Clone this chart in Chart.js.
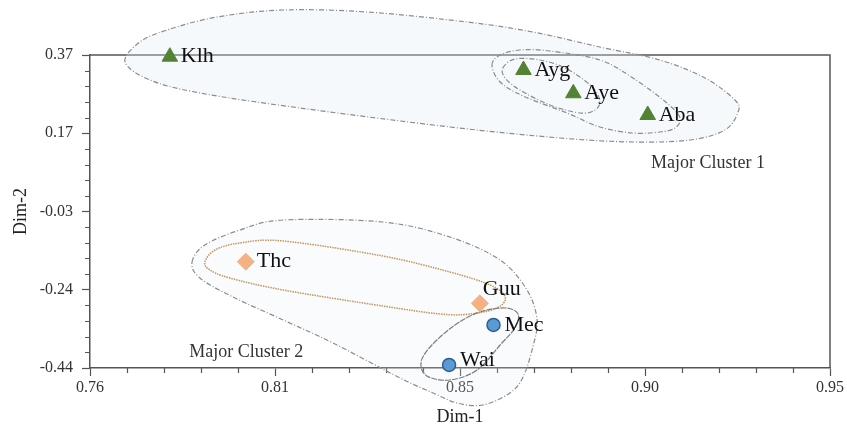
<!DOCTYPE html>
<html>
<head>
<meta charset="utf-8">
<script src="https://cdn.jsdelivr.net/npm/chart.js@4"></script>
<style>
html,body{margin:0;padding:0;background:#fff;}
</style>
</head>
<body>
<canvas id="mychart" width="847" height="428"></canvas>
<script>
// values
var names = ['Klh','Ayg','Aye','Aba','Thc','Guu','Mec','Wai']
var dim1 = [0.7805,0.8713,0.8841,0.9032,0.8000,0.8601,0.8636,0.8522]
var dim2 = [0.3656,0.3312,0.2709,0.2147,-0.1649,-0.2726,-0.3287,-0.4322]
var group = [0,0,0,0,1,1,2,2]

var xTickLabels = ['0.76','0.81','0.85','0.90','0.95']
var yTickLabels = ['-0.44','-0.24','-0.03','0.17','0.37']

var clusterNames = ['Major Cluster 1','Major Cluster 2']
var clusterX = [0.9187,0.8001]
var clusterY = [0.0905,-0.3986]

// cluster outlines, in Dim-1 / Dim-2 units
var hullMajor1 = [[0.7690,0.3519],[0.7728,0.4036],[0.7798,0.4347],[0.7926,0.4683],[0.8096,0.4865],[0.8311,0.4813],[0.8568,0.4554],[0.8737,0.4295],[0.8909,0.3907],[0.9063,0.3571],[0.9179,0.3105],[0.9256,0.2535],[0.9264,0.2225],[0.9230,0.1759],[0.9141,0.1500],[0.8994,0.1449],[0.8807,0.1552],[0.8524,0.1837],[0.8139,0.2328],[0.7882,0.2717],[0.7754,0.3053]]
var hullAbaGroup = [[0.8632,0.3441],[0.8653,0.3700],[0.8704,0.3829],[0.8781,0.3804],[0.8909,0.3571],[0.8994,0.3105],[0.9081,0.2458],[0.9115,0.2070],[0.9102,0.1811],[0.9063,0.1707],[0.8994,0.1681],[0.8909,0.1837],[0.8825,0.2199],[0.8712,0.2639],[0.8653,0.3001]]
var hullAyGroup = [[0.8660,0.3364],[0.8691,0.3596],[0.8755,0.3571],[0.8820,0.3364],[0.8884,0.2924],[0.8909,0.2535],[0.8897,0.2277],[0.8858,0.2199],[0.8781,0.2406],[0.8704,0.2794],[0.8666,0.3105]]
var hullMajor2 = [[0.7862,-0.1657],[0.7895,-0.1217],[0.7985,-0.0829],[0.8096,-0.0570],[0.8352,-0.0622],[0.8524,-0.1010],[0.8653,-0.1605],[0.8722,-0.2382],[0.8748,-0.3158],[0.8737,-0.3857],[0.8712,-0.4633],[0.8678,-0.5047],[0.8609,-0.5358],[0.8542,-0.5306],[0.8481,-0.5047],[0.8396,-0.4659],[0.8224,-0.3753],[0.8096,-0.3158],[0.7967,-0.2563],[0.7882,-0.2071]]
var hullThcGuu = [[0.7895,-0.1657],[0.7921,-0.1346],[0.7985,-0.1165],[0.8096,-0.1113],[0.8352,-0.1502],[0.8524,-0.1916],[0.8627,-0.2252],[0.8666,-0.2563],[0.8645,-0.2847],[0.8576,-0.3003],[0.8499,-0.3003],[0.8352,-0.2796],[0.8096,-0.2382],[0.7959,-0.2071],[0.7908,-0.1864]]
var hullMecWai = [[0.8601,-0.2951],[0.8666,-0.2847],[0.8699,-0.3003],[0.8691,-0.3365],[0.8653,-0.3805],[0.8594,-0.4452],[0.8524,-0.4711],[0.8465,-0.4607],[0.8450,-0.4245],[0.8478,-0.3805],[0.8537,-0.3288]]

var serif = '"Liberation Serif", "Times New Roman", serif'
var dashDot = [5,2,1,2]
var outlines = [
  {pts: hullMajor1, color: '#8c8c8c', width: 1.2, dash: dashDot, fill: 'rgba(225,234,246,0.3)'},
  {pts: hullAbaGroup, color: '#8c8c8c', width: 1.2, dash: dashDot},
  {pts: hullAyGroup, color: '#8c8c8c', width: 1.2, dash: dashDot},
  {pts: hullMajor2, color: '#8c8c8c', width: 1.2, dash: dashDot, fill: 'rgba(225,234,246,0.2)'},
  {pts: hullThcGuu, color: '#c4965c', width: 1.5, dash: [1.5,1]},
  {pts: hullMecWai, color: '#7d7d7d', width: 1.2, dash: [6,1]}
]
// label nudges (pixels)
var labelShift = {Guu: [-8,-14], Wai: [0,-5]}

var styles = [
  {pointStyle: 'triangle', radius: 9, bg: '#548235', border: '#548235', bw: 1},
  {pointStyle: 'rectRot', radius: 8.5, bg: '#f4b183', border: '#f4b183', bw: 1},
  {pointStyle: 'circle', radius: 6.5, bg: '#5b9bd5', border: '#2e5f8f', bw: 1.5}
]

var datasets = styles.map(function(st, g){
  var pts = []
  for (var i = 0; i < names.length; i++) {
    if (group[i] === g) pts.push({x: dim1[i], y: dim2[i], name: names[i]})
  }
  return {
    data: pts,
    pointStyle: st.pointStyle,
    pointRadius: st.radius,
    pointHoverRadius: st.radius,
    backgroundColor: st.bg,
    borderColor: st.border,
    borderWidth: st.bw,
    clip: false
  }
})

function closedCurve(ctx, pts){
  var n = pts.length
  ctx.beginPath()
  ctx.moveTo(pts[0][0], pts[0][1])
  for (var i = 0; i < n; i++) {
    var p0 = pts[(i-1+n)%n], p1 = pts[i], p2 = pts[(i+1)%n], p3 = pts[(i+2)%n]
    ctx.bezierCurveTo(
      p1[0] + (p2[0]-p0[0])/6, p1[1] + (p2[1]-p0[1])/6,
      p2[0] - (p3[0]-p1[0])/6, p2[1] - (p3[1]-p1[1])/6,
      p2[0], p2[1])
  }
  ctx.closePath()
}

var minorTick = 'rgba(0,0,0,0)'
function tickColor(c){ return c.index % 5 === 0 ? '#555' : minorTick }

var extras = {
  id: 'extras',
  beforeDatasetsDraw: function(chart){
    var ctx = chart.ctx, xs = chart.scales.x, ys = chart.scales.y, a = chart.chartArea
    ctx.save()
    // frame top and right
    ctx.strokeStyle = '#555'
    ctx.lineWidth = 1.5
    ctx.beginPath()
    ctx.moveTo(a.left, a.top)
    ctx.lineTo(a.right, a.top)
    ctx.lineTo(a.right, a.bottom)
    ctx.stroke()
    // shorter minor ticks
    ctx.lineWidth = 1.2
    ctx.beginPath()
    xs.ticks.forEach(function(t, i){
      if (i % 5 === 0) return
      var px = Math.round(xs.getPixelForValue(t.value)) + 0.5
      ctx.moveTo(px, a.bottom); ctx.lineTo(px, a.bottom + 5)
    })
    ys.ticks.forEach(function(t, i){
      if (i % 5 === 0) return
      var py = Math.round(ys.getPixelForValue(t.value)) + 0.5
      ctx.moveTo(a.left, py); ctx.lineTo(a.left - 5, py)
    })
    ctx.stroke()
    outlines.forEach(function(o){
      var px = o.pts.map(function(p){ return [xs.getPixelForValue(p[0]), ys.getPixelForValue(p[1])] })
      closedCurve(ctx, px)
      if (o.fill) { ctx.fillStyle = o.fill; ctx.fill() }
      ctx.strokeStyle = o.color
      ctx.lineWidth = o.width
      ctx.setLineDash(o.dash)
      ctx.stroke()
    })
    ctx.setLineDash([])
    ctx.fillStyle = '#333'
    ctx.font = '18px ' + serif
    ctx.textAlign = 'center'
    ctx.textBaseline = 'middle'
    for (var i = 0; i < clusterNames.length; i++) {
      ctx.fillText(clusterNames[i], xs.getPixelForValue(clusterX[i]), ys.getPixelForValue(clusterY[i]))
    }
    ctx.restore()
  },
  afterDatasetsDraw: function(chart){
    var ctx = chart.ctx
    ctx.save()
    ctx.fillStyle = '#111'
    ctx.font = '22px ' + serif
    ctx.textAlign = 'left'
    ctx.textBaseline = 'middle'
    chart.data.datasets.forEach(function(ds, d){
      chart.getDatasetMeta(d).data.forEach(function(el, j){
        var nm = ds.data[j].name
        var sh = labelShift[nm] || [0,0]
        ctx.fillText(nm, el.x + 11 + sh[0], el.y + sh[1])
      })
    })
    ctx.restore()
  }
}

var chart = new Chart(document.getElementById('mychart').getContext('2d'), {
  type: 'scatter',
  data: {datasets: datasets},
  plugins: [extras],
  options: {
    responsive: false,
    animation: false,
    layout: {padding: {left: 0, right: 17, top: 55, bottom: 0}},
    plugins: {legend: {display: false}, tooltip: {enabled: false}},
    scales: {
      x: {
        type: 'linear', min: 0.76, max: 0.95,
        afterBuildTicks: function(s){
          var t = []
          for (var i = 0; i <= 20; i++) t.push({value: 0.76 + i*0.0095})
          s.ticks = t
        },
        afterFit: function(s){ s.height = 60 },
        ticks: {
          autoSkip: false, maxRotation: 0, padding: 2, color: '#333',
          font: {family: serif, size: 16},
          callback: function(v, i){ return i % 5 === 0 ? xTickLabels[i/5] : '' }
        },
        grid: {drawOnChartArea: false, tickLength: 8, tickColor: tickColor, tickWidth: 1.2},
        border: {color: '#555', width: 1.5},
        title: {display: true, text: 'Dim-1', color: '#222', font: {family: serif, size: 18}, padding: {top: 0, bottom: 0}}
      },
      y: {
        type: 'linear', min: -0.44, max: 0.37,
        afterBuildTicks: function(s){
          var t = []
          for (var i = 0; i <= 20; i++) t.push({value: -0.44 + i*0.0405})
          s.ticks = t
        },
        afterFit: function(s){ s.width = 90 },
        ticks: {
          autoSkip: false, padding: 9, color: '#333',
          font: {family: serif, size: 16},
          callback: function(v, i){ return i % 5 === 0 ? yTickLabels[i/5] : '' }
        },
        grid: {drawOnChartArea: false, tickLength: 8, tickColor: tickColor, tickWidth: 1.2},
        border: {color: '#555', width: 1.5},
        title: {display: true, text: 'Dim-2', color: '#222', font: {family: serif, size: 18}, padding: {top: 10, bottom: 0}}
      }
    }
  }
})
</script>
</body>
</html>
